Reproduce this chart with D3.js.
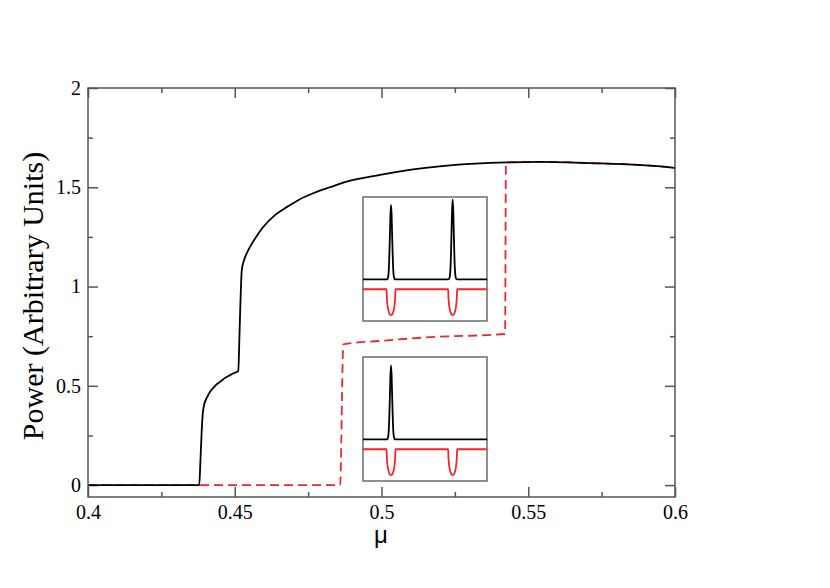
<!DOCTYPE html>
<html>
<head>
<meta charset="utf-8">
<script src="https://cdn.jsdelivr.net/npm/d3@7"></script>
<style>
  body { margin: 0; background: #fff; }
</style>
</head>
<body>
<script>
// main curves
const blackMu = [0.40, 0.4379, 0.4383, 0.4387, 0.4391, 0.4395, 0.4405, 0.4416, 0.4433, 0.4450, 0.4467,
  0.4484, 0.4500, 0.4512, 0.4516, 0.4520, 0.4524, 0.4531, 0.4540, 0.4552, 0.4575, 0.4597, 0.4637, 0.4677,
  0.4722, 0.4767, 0.4824, 0.4881, 0.4995, 0.5108, 0.5233, 0.5427, 0.5540, 0.5710, 0.5983, 0.60];
const blackPower = [0, 0, 0.12, 0.26, 0.36, 0.40, 0.44, 0.47, 0.50, 0.52, 0.54,
  0.554, 0.566, 0.574, 0.75, 0.95, 1.083, 1.13, 1.165, 1.20, 1.255, 1.30, 1.36, 1.40,
  1.44, 1.47, 1.50, 1.528, 1.562, 1.590, 1.610, 1.625, 1.628, 1.622, 1.600, 1.597];

const redMu = [0.40, 0.4859, 0.4870, 0.4995, 0.5165, 0.5421, 0.5424, 0.5540, 0.5710, 0.5983, 0.60];
const redPower = [0, 0, 0.709, 0.726, 0.745, 0.761, 1.625, 1.628, 1.622, 1.600, 1.597];

const xTicks = [0.4, 0.45, 0.5, 0.55, 0.6];
const xTickLabels = ['0.4', '0.45', '0.5', '0.55', '0.6'];
const xMinor = [0.425, 0.475, 0.525, 0.575];
const yTicks = [0, 0.5, 1, 1.5, 2];
const yTickLabels = ['0', '0.5', '1', '1.5', '2'];
const yMinor = [0.25, 0.75, 1.25, 1.75];

// insets: field profiles (x 0..100 across the box, y 0..1 up the box)
const peakDx = [-3.63, -2.9, -2.26, -1.61, -1.05, -0.48, 0, 0.48, 1.05, 1.61, 2.26, 2.9, 3.63];
const peakShape = [0, 0.005, 0.04, 0.19, 0.5, 0.86, 1, 0.86, 0.5, 0.19, 0.04, 0.005, 0];
const dipDx = [-3.63, -3.39, -2.9, -2.26, -1.45, -0.65, 0, 0.65, 1.45, 2.26, 2.9, 3.39, 3.63];
const dipShape = [0, 0.3, 0.6, 0.8, 0.93, 0.99, 1, 0.99, 0.93, 0.8, 0.6, 0.3, 0];

const inset1Peaks = [22.6, 72.3];
const inset1Heights = [0.60, 0.645];
const inset2Peaks = [22.6];
const inset2Heights = [0.596];
const dipPositions = [22.6, 72.3];
const dipDepth = 0.208;
const blackBase = 0.336;
const redBase = 0.256;

const W = 830;
const H = 588;
const margin = { top: 88, right: 155, bottom: 91, left: 88 };
const serif = "'Liberation Serif', 'Times New Roman', serif";

const svg = d3.select('body').append('svg')
  .attr('width', W)
  .attr('height', H);

const x = d3.scaleLinear()
  .domain([0.4, 0.6])
  .range([margin.left, W - margin.right]);

const y = d3.scaleLinear()
  .domain([-0.06, 2])
  .range([H - margin.bottom, margin.top]);

const [x0, x1] = x.range();
const [y0, y1] = y.range();

const axisStyle = (g) => {
  g.attr('font-family', null).attr('font-size', null);
  g.select('.domain').remove();
  g.selectAll('.tick line').attr('stroke', '#555').attr('stroke-width', 1.5);
  g.selectAll('.tick text')
    .style('font-family', serif)
    .style('font-size', '20px')
    .attr('fill', '#000');
};

// major and minor ticks on all four sides, pointing inward
svg.append('g')
  .attr('transform', `translate(0, ${y0})`)
  .call(d3.axisBottom(x).tickValues(xTicks).tickSizeInner(-10).tickSizeOuter(0).tickPadding(8)
    .tickFormat((d, i) => xTickLabels[i]))
  .call(axisStyle);
svg.append('g')
  .attr('transform', `translate(0, ${y0})`)
  .call(d3.axisBottom(x).tickValues(xMinor).tickSizeInner(-5).tickSizeOuter(0).tickFormat(''))
  .call(axisStyle);
svg.append('g')
  .attr('transform', `translate(0, ${y1})`)
  .call(d3.axisTop(x).tickValues(xTicks).tickSizeInner(-10).tickSizeOuter(0).tickFormat(''))
  .call(axisStyle);
svg.append('g')
  .attr('transform', `translate(0, ${y1})`)
  .call(d3.axisTop(x).tickValues(xMinor).tickSizeInner(-5).tickSizeOuter(0).tickFormat(''))
  .call(axisStyle);

svg.append('g')
  .attr('transform', `translate(${x0}, 0)`)
  .call(d3.axisLeft(y).tickValues(yTicks).tickSizeInner(-10).tickSizeOuter(0).tickPadding(7)
    .tickFormat((d, i) => yTickLabels[i]))
  .call(axisStyle);
svg.append('g')
  .attr('transform', `translate(${x0}, 0)`)
  .call(d3.axisLeft(y).tickValues(yMinor).tickSizeInner(-5).tickSizeOuter(0).tickFormat(''))
  .call(axisStyle);
svg.append('g')
  .attr('transform', `translate(${x1}, 0)`)
  .call(d3.axisRight(y).tickValues(yTicks).tickSizeInner(-10).tickSizeOuter(0).tickFormat(''))
  .call(axisStyle);
svg.append('g')
  .attr('transform', `translate(${x1}, 0)`)
  .call(d3.axisRight(y).tickValues(yMinor).tickSizeInner(-5).tickSizeOuter(0).tickFormat(''))
  .call(axisStyle);

const line = d3.line()
  .x(d => x(d[0]))
  .y(d => y(d[1]))
  .curve(d3.curveMonotoneX);

svg.append('path')
  .datum(redMu.map((m, i) => [m, redPower[i]]))
  .attr('d', line)
  .attr('fill', 'none')
  .attr('stroke', '#f0252d')
  .attr('stroke-width', 1.8)
  .attr('stroke-dasharray', '9,5');

svg.append('path')
  .datum(blackMu.map((m, i) => [m, blackPower[i]]))
  .attr('d', line)
  .attr('fill', 'none')
  .attr('stroke', '#000')
  .attr('stroke-width', 1.8);

// frame
svg.append('rect')
  .attr('x', x0)
  .attr('y', y1)
  .attr('width', x1 - x0)
  .attr('height', y0 - y1)
  .attr('fill', 'none')
  .attr('stroke', '#555')
  .attr('stroke-width', 1.5);

const profile = (positions, amps, dx, shape, base, sign) => {
  const pts = [[0, base]];
  positions.forEach((p, k) => {
    dx.forEach((d, j) => pts.push([p + d, base + sign * amps[k] * shape[j]]));
  });
  pts.push([100, base]);
  return pts;
};

const drawInset = (top, peaks, heights) => {
  const ix = d3.scaleLinear().domain([0, 100]).range([363, 487]);
  const iy = d3.scaleLinear().domain([0, 1]).range([top + 124, top]);
  const g = svg.append('g');
  const iline = d3.line().x(d => ix(d[0])).y(d => iy(d[1])).curve(d3.curveMonotoneX);

  g.append('rect')
    .attr('x', ix(0))
    .attr('y', iy(1))
    .attr('width', ix(100) - ix(0))
    .attr('height', iy(0) - iy(1))
    .attr('fill', '#fff')
    .attr('stroke', '#555')
    .attr('stroke-width', 1.3);

  g.append('path')
    .datum(profile(dipPositions, dipPositions.map(() => dipDepth), dipDx, dipShape, redBase, -1))
    .attr('d', iline)
    .attr('fill', 'none')
    .attr('stroke', '#f0252d')
    .attr('stroke-width', 1.8);

  g.append('path')
    .datum(profile(peaks, heights, peakDx, peakShape, blackBase, 1))
    .attr('d', iline)
    .attr('fill', 'none')
    .attr('stroke', '#000')
    .attr('stroke-width', 1.8);
};

drawInset(197, inset1Peaks, inset1Heights);
drawInset(357, inset2Peaks, inset2Heights);

svg.append('text')
  .text('Power (Arbitrary Units)')
  .attr('transform', 'translate(43, 296) rotate(-90)')
  .attr('text-anchor', 'middle')
  .style('font-family', serif)
  .style('font-size', '30px');

svg.append('text')
  .text('μ')
  .attr('x', 381)
  .attr('y', 543)
  .attr('text-anchor', 'middle')
  .style('font-family', "'Liberation Sans', Arial, sans-serif")
  .style('font-size', '24px');
</script>
</body>
</html>
